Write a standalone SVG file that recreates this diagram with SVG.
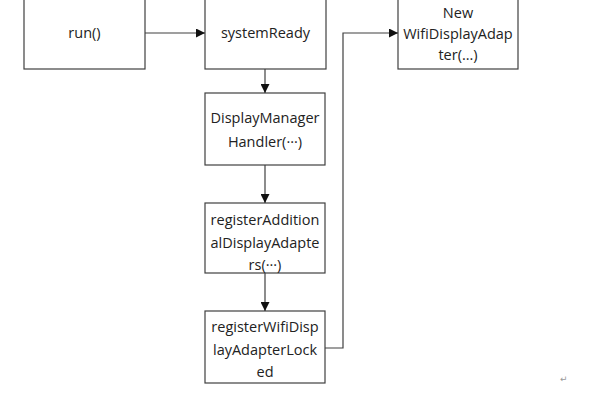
<svg xmlns="http://www.w3.org/2000/svg" width="600" height="400" viewBox="0 0 600 400">
<style>
.box{fill:#fff;stroke:#404040;stroke-width:1.2}
.t{font-family:"Open Sans","Liberation Sans",sans-serif;font-size:14.5px;fill:#222;text-anchor:middle}
.c{fill:none;stroke:#404040;stroke-width:1.2}
</style>
<defs>
<marker id="ah" viewBox="0 0 10 10" refX="10" refY="5" markerWidth="9" markerHeight="9" markerUnits="userSpaceOnUse" orient="auto">
<path d="M0,0 L10,5 L0,10 z" fill="#111"/>
</marker>
</defs>
<rect width="600" height="400" fill="#fff"/>
<g id="run">
<rect class="box" x="24" y="-10" width="121" height="79"/>
<text class="t" x="84.5" y="38">run()</text>
</g>
<g id="systemReady">
<rect class="box" x="205" y="-10" width="121" height="79"/>
<text class="t" x="265.5" y="38">systemReady</text>
</g>
<g id="newWifi">
<rect class="box" x="398" y="-10" width="120" height="79"/>
<text class="t" x="458" y="18">New</text>
<text class="t" x="458" y="39">WifiDisplayAdap</text>
<text class="t" x="458" y="60">ter(...)</text>
</g>
<g id="dmHandler">
<rect class="box" x="205" y="93" width="120" height="72"/>
<text class="t" x="265" y="123">DisplayManager</text>
<text class="t" x="265" y="147">Handler(···)</text>
</g>
<g id="registerAdditional">
<rect class="box" x="205" y="203" width="120" height="70"/>
<text class="t" x="265" y="225">registerAddition</text>
<text class="t" x="265" y="248">alDisplayAdapte</text>
<text class="t" x="265" y="270">rs(···)</text>
</g>
<g id="registerWifi">
<rect class="box" x="205" y="311" width="120" height="72"/>
<text class="t" x="265" y="332">registerWifiDisp</text>
<text class="t" x="265" y="355">layAdapterLock</text>
<text class="t" x="265" y="377">ed</text>
</g>
<g id="connectors">
<line class="c" x1="145" y1="33" x2="205" y2="33" marker-end="url(#ah)"/>
<line class="c" x1="265" y1="69" x2="265" y2="93" marker-end="url(#ah)"/>
<line class="c" x1="265" y1="165" x2="265" y2="203" marker-end="url(#ah)"/>
<line class="c" x1="265" y1="273" x2="265" y2="311" marker-end="url(#ah)"/>
<polyline class="c" points="325,348 343,348 343,33 398,33" marker-end="url(#ah)"/>
</g>
<text x="560" y="382" style="font-family:'DejaVu Sans',sans-serif;font-size:9px;fill:#999">↵</text>
</svg>
